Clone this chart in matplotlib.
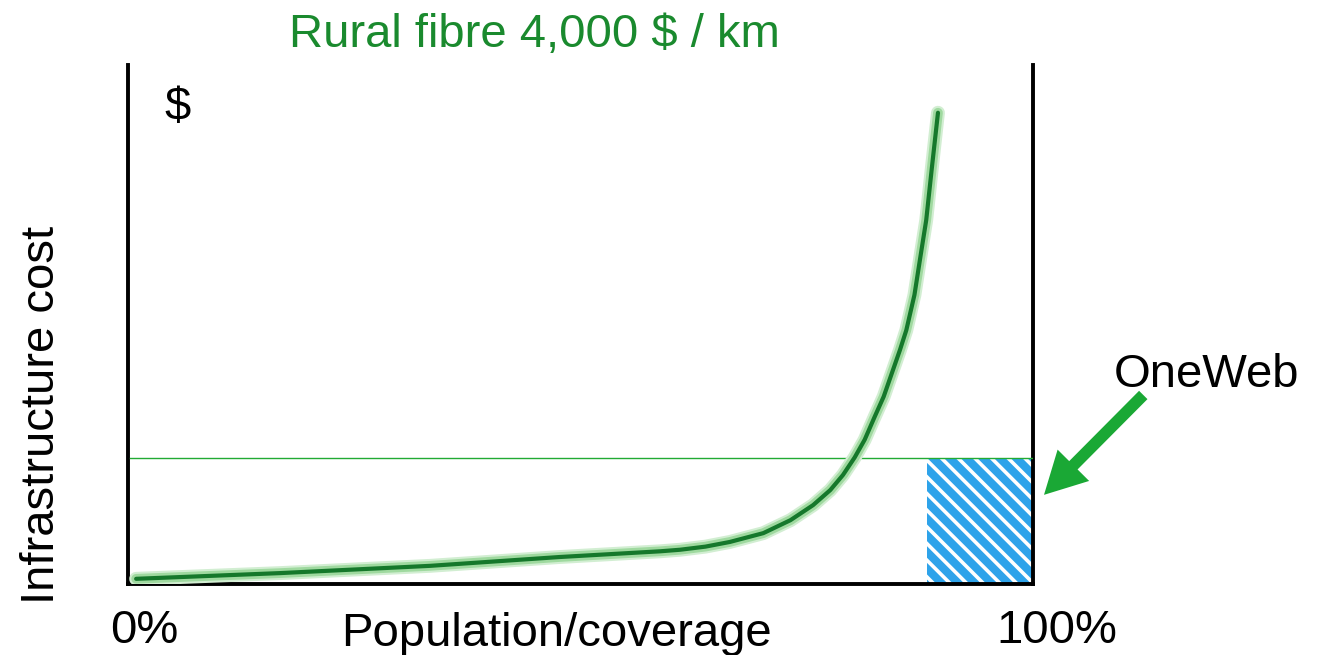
import matplotlib
matplotlib.use("Agg")
import matplotlib.pyplot as plt
from matplotlib.patches import Rectangle, FancyArrowPatch
import matplotlib.patheffects as pe

plt.rcParams['font.family'] = ['Liberation Sans', 'DejaVu Sans']
plt.rcParams['hatch.linewidth'] = 2.6

# Data (coverage %, relative cost)
coverage = [0.9, 16.8, 33.4, 47.7, 58.8, 61.0, 63.8, 66.5, 70.2, 73.2, 75.7, 77.6, 79.0, 80.3,
            81.4, 82.5, 83.5, 84.4, 85.3, 86.0, 86.9, 87.5, 88.2, 88.8, 89.5]
cost = [1.0, 2.1, 3.5, 5.2, 6.3, 6.6, 7.2, 8.1, 9.8, 12.3, 15.2, 18.1, 21.0, 24.4,
        27.8, 32.2, 36.1, 40.6, 45.1, 48.9, 55.7, 62.4, 70.1, 79.8, 90.8]
oneweb_level = 24.2
oneweb_start = 88.3
title_text = "Rural fibre 4,000 $ / km"
xlabel_text = "Population/coverage"
ylabel_text = "Infrastructure cost"
tick_labels = ["0%", "100%"]

W, H = 1329, 655
fig = plt.figure(figsize=(W / 100, H / 100), dpi=100)
ax = fig.add_axes([128 / W, (H - 584) / H, (1033 - 128) / W, (584 - 65) / H])
ax.set_xlim(0, 100)
ax.set_ylim(0, 100)
ax.set_xticks([])
ax.set_yticks([])
ax.spines['top'].set_visible(False)
for s in ['left', 'right', 'bottom']:
    ax.spines[s].set_linewidth(2.8)
    ax.spines[s].set_color('black')

# OneWeb hatched block
rect = Rectangle((oneweb_start, 0), 100 - oneweb_start, oneweb_level,
                 facecolor='#2EA3EA', edgecolor='white', hatch='\\\\', linewidth=0, zorder=2)
ax.add_patch(rect)

# horizontal level line
ax.plot([0.2, 100], [oneweb_level, oneweb_level], color='#22AA33', lw=1.0, zorder=3)

# cost curve with glow
ax.plot(coverage, cost, color='#15782B', lw=3.0, solid_capstyle='round', solid_joinstyle='round',
        zorder=4,
        path_effects=[pe.Stroke(linewidth=10, foreground='#D2EED2'),
                      pe.Stroke(linewidth=7, foreground='#9FD99F'),
                      pe.Normal()])

# arrow
arr = FancyArrowPatch((112.4, 36.8), (101.0, 16.8),
                      arrowstyle='simple,head_width=32,head_length=30,tail_width=8.5',
                      mutation_scale=1, color='#1AA835', lw=0, clip_on=False, zorder=5)
ax.add_patch(arr)

fs = 34
fig.text(534.5 / W, 1 - 35 / H, title_text, color='#1A8A2E', fontsize=fs, ha='center', va='center')
fig.text(178 / W, 1 - 108 / H, "$", color='black', fontsize=fs, ha='center', va='center')
fig.text(1207 / W, 1 - 375 / H, "OneWeb", color='black', fontsize=fs, ha='center', va='center')
fig.text(556 / W, 1 - 646 / H, xlabel_text, color='black', fontsize=fs, ha='center', va='baseline')
fig.text(144 / W, 1 - 643 / H, tick_labels[0], color='black', fontsize=fs, ha='center', va='baseline')
fig.text(1057 / W, 1 - 643 / H, tick_labels[1], color='black', fontsize=fs, ha='center', va='baseline')
fig.text(42 / W, 1 - 415 / H, ylabel_text, color='black', fontsize=fs, ha='center', va='center', rotation=90)

fig.savefig("out.png", dpi=100)
